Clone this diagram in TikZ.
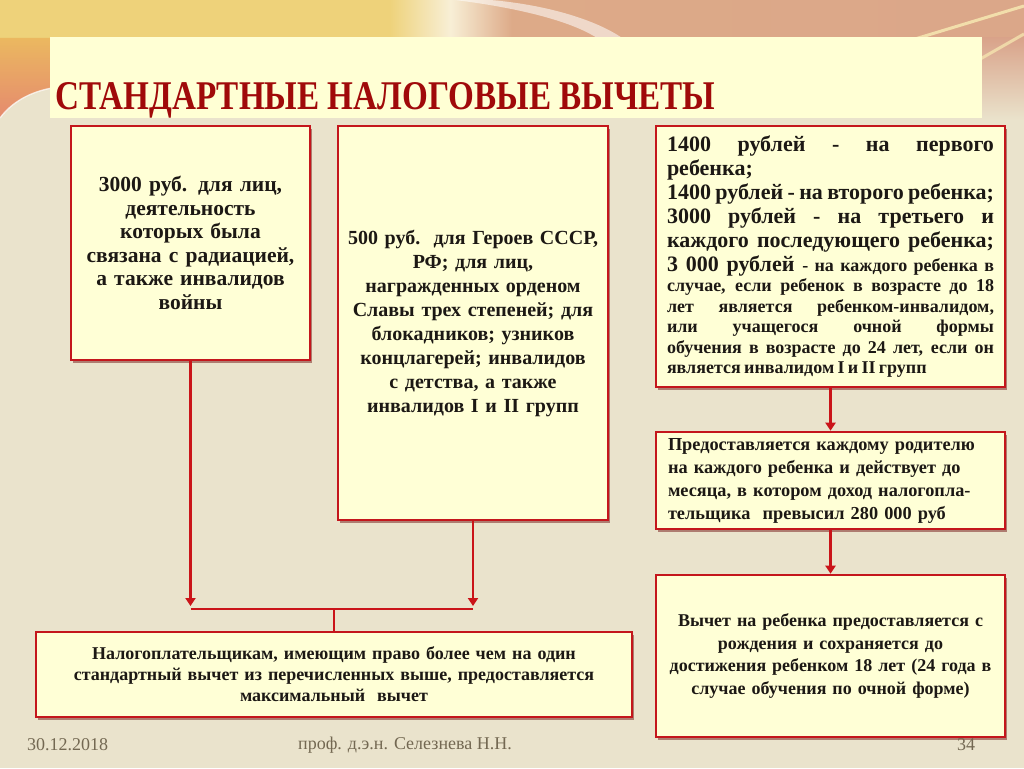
\documentclass[tikz,border=0pt]{standalone}
\usepackage{fontspec}
\setmainfont{Liberation Serif}
\usetikzlibrary{shadows,arrows.meta,calc}
\definecolor{bg}{HTML}{EAE3CC}
\definecolor{titlefill}{HTML}{FFFFD4}
\definecolor{boxfill}{HTML}{FFFFD6}
\definecolor{boxred}{HTML}{C4161C}
\definecolor{titlered}{HTML}{A00A0A}
\definecolor{txt}{HTML}{1C1814}
\definecolor{foot}{HTML}{736852}
\definecolor{c1}{HTML}{EAB85E}
\definecolor{c2}{HTML}{EED27A}
\definecolor{c3}{HTML}{F8EFD6}
\definecolor{c4}{HTML}{DDAA88}
\definecolor{c5}{HTML}{D9A38A}
\definecolor{lefttop}{HTML}{EBB860}
\definecolor{leftbot}{HTML}{E58A6E}
\pgfdeclarehorizontalshading{topband}{100bp}{color(0bp)=(c1); color(15bp)=(c2); color(44bp)=(c2); color(47bp)=(c3); color(50bp)=(c4); color(100bp)=(c5)}
\newcommand{\jl}[1]{\noindent\hbox to 327pt{\spaceskip=0pt\xspaceskip=0pt #1}\par}
\newcommand{\plainline}[1]{\noindent\hbox{#1}\par}
\begin{document}
\begin{tikzpicture}[x=1pt,y=-1pt,
  box/.style={draw=boxred, line width=2.6pt, fill=boxfill, inner sep=0pt, text=txt, align=center,
    drop shadow={shadow xshift=2pt, shadow yshift=-2.5pt, opacity=0.45, fill=black!60!red}},
  conn/.style={draw=boxred!90!red, line width=2.6pt},
  arrow/.style={conn, -{Triangle[length=8pt,width=10pt]}},
  foot/.style={text=foot, font=\fontsize{18}{20}\selectfont, inner sep=0pt}]
\useasboundingbox (0,0) rectangle (1024,768);
\fill[bg] (0,0) rectangle (1024,768);
% top decorative band
\shade[shading=topband] (0,0) rectangle (1024,40);
\shade[top color=lefttop, bottom color=leftbot] (0,38) -- (52,38) -- (52,88) .. controls (30,92) and (12,102) .. (0,118) -- cycle;
\draw[white, opacity=0.75, line width=1.3pt] (0,118) .. controls (12,102) and (30,92) .. (52,88);
\shade[top color=c5, bottom color=bg] (980,38) rectangle (1024,120);
\fill[white, opacity=0.55] (455,0) .. controls (520,8) and (575,22) .. (600,40) -- (625,40) .. controls (595,18) and (540,4) .. (490,0) -- cycle;
\draw[c2!60!white, opacity=0.9, line width=3pt] (905,42) -- (1024,6);
\draw[c2!60!white, opacity=0.8, line width=3pt] (975,62) -- (1024,34);

\node[fill=titlefill, minimum width=932pt, minimum height=81pt, inner sep=0pt, anchor=north west] (titlebox) at (50,37) {};
\node[anchor=base west, inner sep=0pt, text=titlered] (title) at (55,109)
  {\resizebox{660pt}{27pt}{\bfseries СТАНДАРТНЫЕ НАЛОГОВЫЕ ВЫЧЕТЫ}};

\node[box, minimum width=239pt, minimum height=234pt, text width=228pt,
  font=\bfseries\fontsize{21.5}{23.5}\selectfont] (A) at (190.5,243)
  {3000 руб. для лиц,\\ деятельность\\ которых была\\ связана с радиацией,\\ а также инвалидов\\ войны};

\node[box, minimum width=270pt, minimum height=394pt, text width=262pt,
  font=\bfseries\fontsize{20}{24}\selectfont] (B) at (473,323)
  {500 руб.\ \ для Героев СССР,\\ РФ; для лиц,\\ награжденных орденом\\ Славы трех степеней; для\\ блокадников; узников\\ концлагерей; инвалидов\\ с детства, а также\\ инвалидов I и II групп};

\node[box, minimum width=349pt, minimum height=261pt, text width=327pt, align=left,
  font=\bfseries] (C) at (830.5,256.5)
  {\parindent=0pt\fontsize{22}{24}\selectfont
   \jl{1400 рублей - на первого}
   \plainline{ребенка;}
   \jl{1400 рублей - на второго ребенка;}
   \jl{3000 рублей - на третьего и}
   \jl{каждого последующего ребенка;}
   \jl{{\fontsize{22}{24}\selectfont 3 000 рублей} {\fontsize{18}{20.5}\selectfont - на каждого ребенка в}}
   \fontsize{18}{20.5}\selectfont
   \jl{случае, если ребенок в возрасте до 18}
   \jl{лет является ребенком-инвалидом,}
   \jl{или учащегося очной формы}
   \jl{обучения в возрасте до 24 лет, если он}
   \plainline{является инвалидом I и II групп}};

\node[box, minimum width=349pt, minimum height=97pt, text width=325pt, align=left,
  font=\bfseries\fontsize{18.3}{23}\selectfont] (D) at (830.5,480.5)
  {Предоставляется каждому родителю\\ на каждого ребенка и действует до\\ месяца, в котором доход налогопла-\\ тельщика\ \ превысил 280 000 руб};

\node[box, minimum width=349pt, minimum height=162pt, text width=340pt,
  font=\bfseries\fontsize{18}{22.5}\selectfont] (E) at (830.5,656)
  {Вычет на ребенка предоставляется с\\ рождения и сохраняется до\\ достижения ребенком 18 лет (24 года в\\ случае обучения по очной форме)};

\node[box, minimum width=596pt, minimum height=85pt, text width=585pt,
  font=\bfseries\fontsize{18}{21}\selectfont] (F) at (334,674.5)
  {Налогоплательщикам, имеющим право более чем на один\\ стандартный вычет из перечисленных выше, предоставляется\\ максимальный\ \ вычет};

\coordinate (m) at (334,609);
\draw[arrow] (A.south) -- ($(A.south |- m)+(0,-3)$);
\draw[arrow] (B.south) -- ($(B.south |- m)+(0,-3)$);
\draw[conn] (A.south |- m) -- (B.south |- m);
\draw[conn] (m) -- (F.north);
\draw[arrow] (C.south) -- (D.north);
\draw[arrow] (D.south) -- (E.north);

\node[foot, anchor=west] (date) at (27,745) {30.12.2018};
\node[foot, anchor=west] (author) at (298,745) {проф. д.э.н. Селезнева Н.Н.};
\node[foot] (page) at (966,745) {34};
\end{tikzpicture}
\end{document}
